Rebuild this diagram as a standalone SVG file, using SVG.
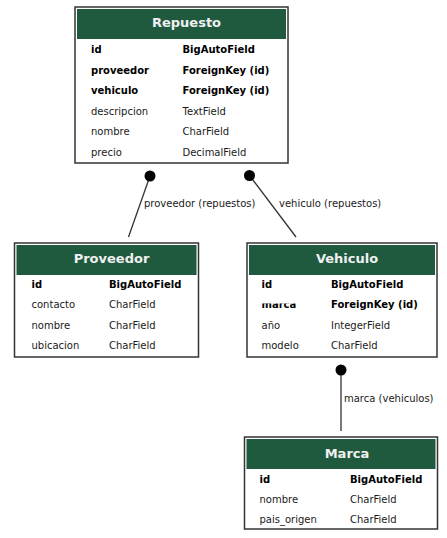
<svg xmlns="http://www.w3.org/2000/svg" width="447" height="538" viewBox="0 0 447 538">
<defs>
<style>
.box{fill:#fff;stroke:#333;stroke-width:1.5}
.hdr{fill:#1f5a3f}
.title{font-family:"DejaVu Sans",sans-serif;font-weight:bold;font-size:13px;fill:#f0f0f0;text-anchor:middle}
.k{font-family:"DejaVu Sans",sans-serif;font-weight:bold;font-size:10px;fill:#000}
.f{font-family:"DejaVu Sans",sans-serif;font-size:10px;fill:#1a1a1a}
.edge{stroke:#333;stroke-width:1.3;fill:none}
.dot{fill:#000}
.lbl{font-family:"DejaVu Sans",sans-serif;font-size:10px;fill:#1a1a1a}
</style>
<clipPath id="cut"><rect x="255" y="303.5" width="70" height="10"/></clipPath>
</defs>
<rect width="447" height="538" fill="#fff"/>
<g id="connectors">
<line class="edge" x1="150" y1="176" x2="128.5" y2="237"/>
<circle class="dot" cx="150" cy="176" r="5.5"/>
<text class="lbl" x="144" y="207">proveedor (repuestos)</text>
<line class="edge" x1="249.5" y1="175.5" x2="296" y2="237"/>
<circle class="dot" cx="249.5" cy="175.5" r="5.5"/>
<text class="lbl" x="279" y="207">vehiculo (repuestos)</text>
<line class="edge" x1="341" y1="370" x2="341" y2="431"/>
<circle class="dot" cx="341" cy="370" r="5.5"/>
<text class="lbl" x="344" y="402">marca (vehiculos)</text>
</g>
<g id="Repuesto">
<rect class="box" x="75" y="7" width="213" height="156"/>
<rect class="hdr" x="77" y="9" width="209" height="30"/>
<text class="title" x="186.5" y="26.5">Repuesto</text>
<text class="k" x="91" y="53">id</text><text class="k" x="182.5" y="53">BigAutoField</text>
<text class="k" x="91" y="73.5">proveedor</text><text class="k" x="182.5" y="73.5">ForeignKey (id)</text>
<text class="k" x="91" y="94">vehiculo</text><text class="k" x="182.5" y="94">ForeignKey (id)</text>
<text class="f" x="91" y="114.5">descripcion</text><text class="f" x="182.5" y="114.5">TextField</text>
<text class="f" x="91" y="135">nombre</text><text class="f" x="182.5" y="135">CharField</text>
<text class="f" x="91" y="155.5">precio</text><text class="f" x="182.5" y="155.5">DecimalField</text>
</g>
<g id="Proveedor">
<rect class="box" x="14.5" y="243" width="184" height="114"/>
<rect class="hdr" x="16.5" y="245" width="180" height="30"/>
<text class="title" x="111.5" y="262.5">Proveedor</text>
<text class="k" x="31.5" y="287.5">id</text><text class="k" x="109" y="287.5">BigAutoField</text>
<text class="f" x="31.5" y="308">contacto</text><text class="f" x="109" y="308">CharField</text>
<text class="f" x="31.5" y="328.5">nombre</text><text class="f" x="109" y="328.5">CharField</text>
<text class="f" x="31.5" y="349">ubicacion</text><text class="f" x="109" y="349">CharField</text>
</g>
<g id="Vehiculo">
<rect class="box" x="247" y="243" width="190" height="114"/>
<rect class="hdr" x="249" y="245" width="186" height="30"/>
<text class="title" x="347" y="262.5">Vehiculo</text>
<text class="k" x="261.5" y="287.5">id</text><text class="k" x="331" y="287.5">BigAutoField</text>
<text class="k" x="261.5" y="308" clip-path="url(#cut)">marca</text><text class="k" x="331" y="308">ForeignKey (id)</text>
<text class="f" x="261.5" y="328.5">año</text><text class="f" x="331" y="328.5">IntegerField</text>
<text class="f" x="261.5" y="349">modelo</text><text class="f" x="331" y="349">CharField</text>
</g>
<g id="Marca">
<rect class="box" x="244.5" y="437" width="193" height="92"/>
<rect class="hdr" x="246.5" y="439" width="189" height="30"/>
<text class="title" x="347" y="458">Marca</text>
<text class="k" x="259.5" y="482.5">id</text><text class="k" x="350" y="482.5">BigAutoField</text>
<text class="f" x="259.5" y="502.5">nombre</text><text class="f" x="350" y="502.5">CharField</text>
<text class="f" x="259.5" y="522.5">pais_origen</text><text class="f" x="350" y="522.5">CharField</text>
</g>
</svg>
